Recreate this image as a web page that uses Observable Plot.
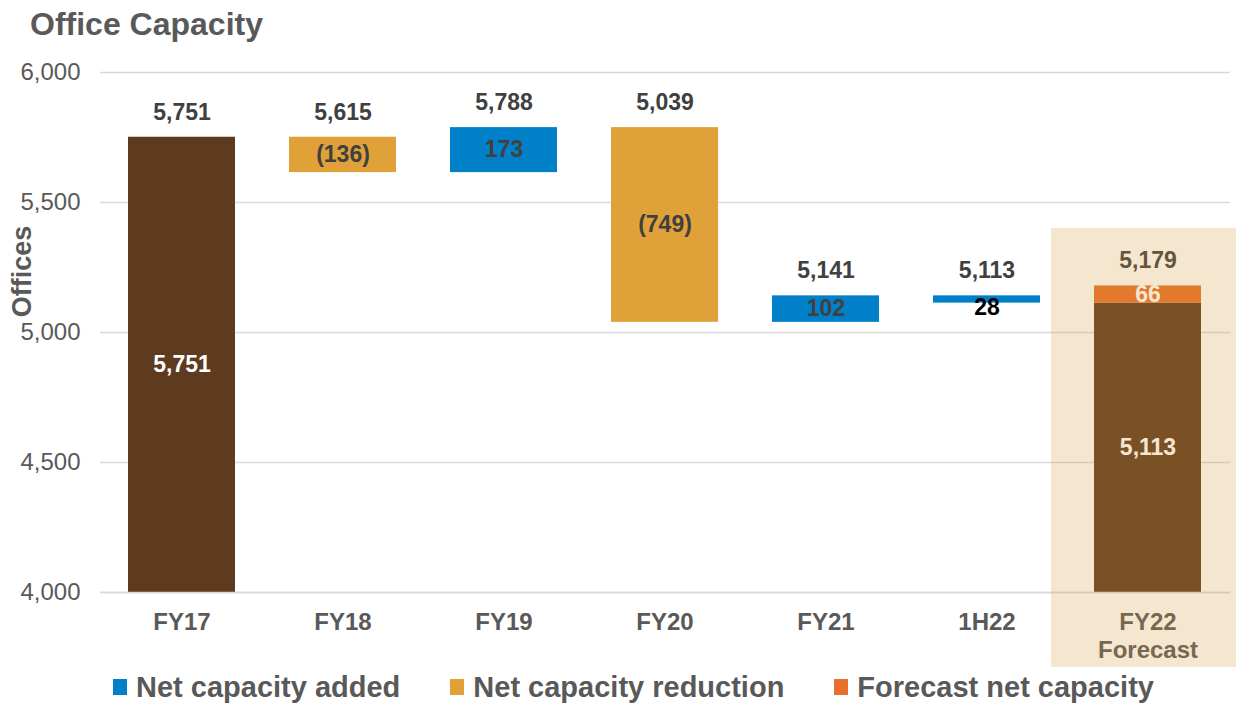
<!DOCTYPE html>
<html>
<head>
<meta charset="utf-8">
<script src="https://cdn.jsdelivr.net/npm/d3@7"></script>
<script src="https://cdn.jsdelivr.net/npm/@observablehq/plot@0.6"></script>
<style>
  body { margin: 0; background: #fff; font-family: "Liberation Sans", Arial, sans-serif; }
  #wrap { width: 1236px; height: 704px; overflow: hidden; }
  #title { height: 48px; line-height: 48px; padding-left: 30px; font-size: 32px; font-weight: bold; color: #595959; }
  #legend { height: 36px; display: flex; align-items: center; padding-left: 113px; padding-top: 2px; box-sizing: border-box; }
  .item { display: flex; align-items: center; margin-right: 50px; font-size: 29px; font-weight: bold; color: #595959; }
  .sw { width: 14px; height: 16px; margin-right: 9px; }
</style>
</head>
<body>
<div id="wrap">
  <div id="title">Office Capacity</div>
  <div id="chart"></div>
  <div id="legend"></div>
</div>
<script>
// ---- data ----
const categories = ["FY17", "FY18", "FY19", "FY20", "FY21", "1H22", "FY22\nForecast"];
const totals = [5751, 5615, 5788, 5039, 5141, 5113, 5179];

const segCategory = ["FY17", "FY18", "FY19", "FY20", "FY21", "1H22", "FY22\nForecast", "FY22\nForecast"];
const segFrom     = [4000, 5751, 5615, 5788, 5039, 5141, 4000, 5113];
const segTo       = [5751, 5615, 5788, 5039, 5141, 5113, 5113, 5179];
const segType     = ["total", "reduction", "added", "reduction", "added", "added", "total", "forecast"];
const segLabel    = ["5,751", "(136)", "173", "(749)", "102", "28", "5,113", "66"];

const yTicks = [4000, 4500, 5000, 5500, 6000];
const legendNames = ["Net capacity added", "Net capacity reduction", "Forecast net capacity"];
const legendTypes = ["added", "reduction", "forecast"];
const highlightCategory = "FY22\nForecast";

// ---- styles ----
const colors = { total: "#5E3B1F", reduction: "#E0A238", added: "#0080C8", forecast: "#E8702A" };
const labelColors = { total: "#ffffff", reduction: "#404040", added: "#404040", forecast: "#ffffff" };

const segs = segCategory.map((c, i) => ({
  cat: c, from: segFrom[i], to: segTo[i], type: segType[i], label: segLabel[i],
  mid: (segFrom[i] + segTo[i]) / 2,
  thin: Math.abs(segTo[i] - segFrom[i]) < 40
}));
const tops = categories.map((c, i) => ({
  cat: c,
  top: d3.max(segs.filter(s => s.cat === c), s => Math.max(s.from, s.to)),
  label: d3.format(",")(totals[i])
}));

const font = "'Liberation Sans', Arial, sans-serif";

const chart = Plot.plot({
  width: 1236,
  height: 620,
  marginTop: 24,
  marginBottom: 76,
  marginLeft: 100,
  marginRight: 6,
  style: { fontFamily: font, background: "transparent", overflow: "visible" },
  x: { domain: categories, paddingInner: 0.333, paddingOuter: 0.175, label: null },
  y: { domain: [4000, 6000], label: null },
  marks: [
    Plot.gridY({ ticks: yTicks, stroke: "#d9d9d9", strokeOpacity: 1, strokeWidth: 1.5 }),
    Plot.barY(segs, {
      x: "cat", y1: "from", y2: "to",
      fill: d => colors[d.type]
    }),
    Plot.ruleY([4000], { stroke: "#d9d9d9", strokeWidth: 1.5 }),
    // labels inside bars
    Plot.text(segs.filter(d => !d.thin), {
      x: "cat", y: "mid", text: "label",
      fill: d => labelColors[d.type],
      fontSize: 23, fontWeight: "bold"
    }),
    // labels for thin bars (below)
    Plot.text(segs.filter(d => d.thin), {
      x: "cat", y: "mid", text: "label", dy: 8,
      fill: "#000000", fontSize: 23, fontWeight: "bold"
    }),
    // totals above
    Plot.text(tops, {
      x: "cat", y: "top", text: "label", dy: -25,
      fill: "#404040", fontSize: 23, fontWeight: "bold"
    }),
    Plot.axisY({
      ticks: yTicks, tickFormat: d3.format(","), tickSize: 0, tickPadding: 20,
      fontSize: 24, fill: "#595959", label: null
    }),
    Plot.axisX({
      tickSize: 0, tickPadding: 18, fontSize: 24, fontWeight: "bold",
      fill: "#595959", lineHeight: 1.15, label: null
    }),
    Plot.text(["Offices"], {
      frameAnchor: "left", dx: -78, dy: -61, rotate: -90,
      textAnchor: "middle", lineAnchor: "middle",
      fontSize: 27, fontWeight: "bold", fill: "#595959"
    }),
    // forecast highlight overlay
    Plot.barY([highlightCategory], {
      x: d => d, y1: 4000, y2: 5400,
      insetLeft: -43, insetRight: -35, insetBottom: -75,
      fill: "#D59839", fillOpacity: 0.24
    })
  ]
});
document.getElementById("chart").appendChild(chart);

const legend = document.getElementById("legend");
legendNames.forEach((name, i) => {
  const item = document.createElement("div");
  item.className = "item";
  const sw = document.createElement("div");
  sw.className = "sw";
  sw.style.background = colors[legendTypes[i]];
  const t = document.createElement("span");
  t.textContent = name;
  item.appendChild(sw);
  item.appendChild(t);
  legend.appendChild(item);
});
</script>
</body>
</html>
